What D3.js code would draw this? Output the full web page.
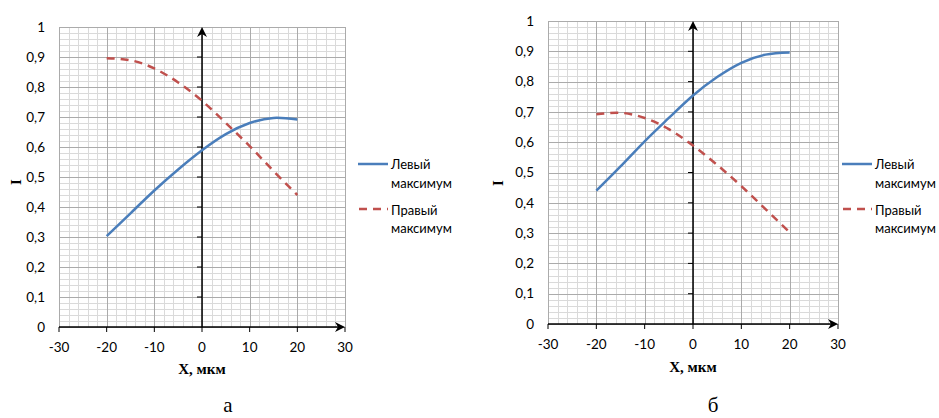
<!DOCTYPE html>
<html>
<head>
<meta charset="utf-8">
<script src="https://cdn.jsdelivr.net/npm/d3@7/dist/d3.min.js"></script>
<style>
  html, body { margin: 0; padding: 0; background: #fff; }
  svg { display: block; }
  .tick-label { font-family: Lato, "Open Sans", sans-serif; font-size: 13.5px; fill: #000; }
  .legend-text { font-family: Lato, "Open Sans", sans-serif; font-size: 13px; fill: #000; }
  .axis-title { font-family: "Liberation Serif", "DejaVu Serif", serif; font-weight: bold; fill: #000; }
  .panel-label { font-family: "Liberation Serif", "DejaVu Serif", serif; font-size: 21px; fill: #000; }
</style>
</head>
<body>
<svg id="chart" width="939" height="418"></svg>
<script>
// Coordinate along the slit, µm
const xValues = [-20, -15, -10, -5, 0, 5, 10, 15, 20];

// Panel "а": intensity of the left and right maxima
const leftMaxA  = [0.303, 0.379, 0.455, 0.525, 0.589, 0.643, 0.680, 0.697, 0.692];
const rightMaxA = [0.896, 0.889, 0.862, 0.815, 0.754, 0.680, 0.603, 0.520, 0.440];

// Panel "б": intensity of the left and right maxima
const leftMaxB  = [0.440, 0.520, 0.603, 0.680, 0.754, 0.815, 0.862, 0.889, 0.896];
const rightMaxB = [0.692, 0.697, 0.680, 0.643, 0.589, 0.525, 0.455, 0.379, 0.303];

const seriesNames = ["Левый", "максимум", "Правый", "максимум"];
const xTicks = [-30, -20, -10, 0, 10, 20, 30];
const yTicks = [0, 0.1, 0.2, 0.3, 0.4, 0.5, 0.6, 0.7, 0.8, 0.9, 1];
const yTickLabels = ["0", "0,1", "0,2", "0,3", "0,4", "0,5", "0,6", "0,7", "0,8", "0,9", "1"];
const xTitle = "X, мкм";
const yTitle = "I";
const panelLabels = ["а", "б"];

const blue = "#4a7ebb";
const red = "#c0504d";

const svg = d3.select("#chart");

function drawPanel(cfg) {
  const g = svg.append("g");
  const x = d3.scaleLinear().domain([-30, 30]).range([cfg.left, cfg.right]);
  const y = d3.scaleLinear().domain([0, 1]).range([cfg.bottom, cfg.top]);

  // minor grid
  const minorX = d3.range(-30, 30.001, 2).filter(v => Math.abs(v % 10) > 1e-6);
  const minorY = d3.range(0, 1.0001, 0.02).filter(v => Math.abs(Math.round(v * 50) % 5) !== 0);
  const grid = g.append("g").attr("shape-rendering", "crispEdges");
  grid.selectAll("line.mx").data(minorX).join("line")
    .attr("x1", d => Math.round(x(d)) + 0.5).attr("x2", d => Math.round(x(d)) + 0.5)
    .attr("y1", y(1)).attr("y2", y(0))
    .attr("stroke", "#dadada").attr("stroke-width", 1);
  grid.selectAll("line.my").data(minorY).join("line")
    .attr("y1", d => Math.round(y(d)) + 0.5).attr("y2", d => Math.round(y(d)) + 0.5)
    .attr("x1", x(-30)).attr("x2", x(30))
    .attr("stroke", "#dadada").attr("stroke-width", 1);
  // major grid
  grid.selectAll("line.Mx").data(xTicks).join("line")
    .attr("x1", d => Math.round(x(d)) + 0.5).attr("x2", d => Math.round(x(d)) + 0.5)
    .attr("y1", y(1)).attr("y2", y(0))
    .attr("stroke", "#ababab").attr("stroke-width", 1);
  grid.selectAll("line.My").data(yTicks).join("line")
    .attr("y1", d => Math.round(y(d)) + 0.5).attr("y2", d => Math.round(y(d)) + 0.5)
    .attr("x1", x(-30)).attr("x2", x(30))
    .attr("stroke", "#ababab").attr("stroke-width", 1);

  // y tick labels on the left edge of the plot
  g.selectAll("text.yl").data(yTicks).join("text")
    .attr("class", "tick-label")
    .attr("x", x(-30) - 14).attr("y", d => y(d))
    .attr("dy", "0.35em").attr("text-anchor", "end")
    .text((d, i) => yTickLabels[i]);

  // x tick labels
  g.selectAll("text.xl").data(xTicks).join("text")
    .attr("class", "tick-label")
    .attr("x", d => x(d)).attr("y", y(0) + 20)
    .attr("dy", "0.35em").attr("text-anchor", "middle")
    .text(d => d);

  // axes through zero
  const x0 = x(0), y0 = y(0);
  g.append("line").attr("x1", x0).attr("x2", x0).attr("y1", y0).attr("y2", y(1) + 4)
    .attr("stroke", "#000").attr("stroke-width", 1.5);
  g.append("line").attr("x1", x(-30)).attr("x2", x(30) - 4).attr("y1", y0).attr("y2", y0)
    .attr("stroke", "#000").attr("stroke-width", 1.5);
  // y-axis ticks
  g.selectAll("line.yt").data(yTicks.slice(1, -1)).join("line")
    .attr("x1", x0 - 5).attr("x2", x0)
    .attr("y1", d => y(d)).attr("y2", d => y(d))
    .attr("stroke", "#000").attr("stroke-width", 1);
  // x-axis ticks
  g.selectAll("line.xt").data(xTicks).join("line")
    .attr("x1", d => x(d)).attr("x2", d => x(d))
    .attr("y1", y0).attr("y2", y0 + 5)
    .attr("stroke", "#000").attr("stroke-width", 1);
  // arrow heads
  const ty = y(1);
  g.append("path")
    .attr("d", `M${x0},${ty} L${x0 + 5},${ty + 10} L${x0},${ty + 7} L${x0 - 5},${ty + 10} Z`)
    .attr("fill", "#000");
  const tx = x(30);
  g.append("path")
    .attr("d", `M${tx},${y0} L${tx - 10},${y0 - 5} L${tx - 7},${y0} L${tx - 10},${y0 + 5} Z`)
    .attr("fill", "#000");

  // data lines
  const line = d3.line()
    .x((d, i) => x(xValues[i]))
    .y(d => y(d))
    .curve(d3.curveNatural);
  g.append("path").datum(cfg.leftMax).attr("d", line)
    .attr("fill", "none").attr("stroke", blue).attr("stroke-width", 2.5);
  g.append("path").datum(cfg.rightMax).attr("d", line)
    .attr("fill", "none").attr("stroke", red).attr("stroke-width", 2.5)
    .attr("stroke-dasharray", "8,6");

  // axis titles
  g.append("text").attr("class", "axis-title")
    .attr("x", x0).attr("y", cfg.xTitleY).attr("dy", "0.35em")
    .attr("text-anchor", "middle").attr("font-size", 15)
    .text(xTitle);
  g.append("text").attr("class", "axis-title")
    .attr("transform", `translate(${cfg.yTitleX},${cfg.yTitleY}) rotate(-90)`)
    .attr("dy", "0.35em").attr("text-anchor", "middle").attr("font-size", 15)
    .text(yTitle);

  // legend
  const lg = g.append("g");
  lg.append("line").attr("x1", cfg.legX).attr("x2", cfg.legX + 30)
    .attr("y1", 164).attr("y2", 164).attr("stroke", blue).attr("stroke-width", 2.5);
  lg.append("line").attr("x1", cfg.legX + 1).attr("x2", cfg.legX + 30)
    .attr("y1", 209).attr("y2", 209).attr("stroke", red).attr("stroke-width", 2.5)
    .attr("stroke-dasharray", "8,6");
  const legY = [164, 183, 210, 228];
  lg.selectAll("text").data(seriesNames).join("text")
    .attr("class", "legend-text")
    .attr("x", cfg.legX + 33).attr("y", (d, i) => legY[i]).attr("dy", "0.35em")
    .text(d => d);

  // panel caption
  g.append("text").attr("class", "panel-label")
    .attr("x", cfg.capX).attr("y", 405).attr("dy", "0.35em")
    .attr("text-anchor", "middle").text(cfg.caption);
}

drawPanel({
  left: 59, right: 345, top: 27, bottom: 327,
  leftMax: leftMaxA, rightMax: rightMaxA,
  xTitleY: 369, yTitleX: 16, yTitleY: 182,
  legX: 358, capX: 228, caption: panelLabels[0]
});
drawPanel({
  left: 548, right: 838, top: 21, bottom: 324,
  leftMax: leftMaxB, rightMax: rightMaxB,
  xTitleY: 367, yTitleX: 498, yTitleY: 183,
  legX: 842, capX: 713, caption: panelLabels[1]
});
</script>
</body>
</html>
